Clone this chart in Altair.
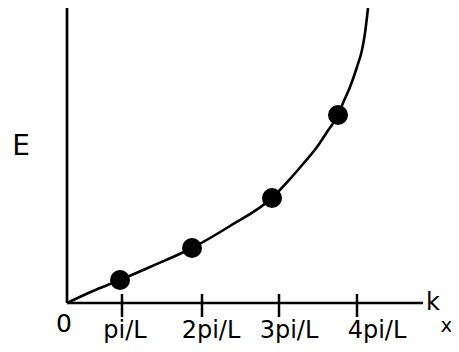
import altair as alt
import pandas as pd

# curve E(k) (arbitrary units, origin at 0,0)
curve_k = [0, 26, 53, 83, 125, 163, 206, 223, 236, 250, 260, 271, 276, 283, 290, 295, 298, 300, 301]
curve_E = [0, 12, 23, 36, 55, 77, 106, 124, 139, 156, 171, 188, 200, 216, 236, 253, 270, 286, 295]

# dots on the curve
dot_k = [53, 125, 205, 271]
dot_E = [23, 55, 105, 188]

# x ticks and their labels
tick_k = [55, 135, 212, 290]
tick_label_k = [58, 144, 222, 310]
tick_labels = ["pi/L", "2pi/L", "3pi/L", "4pi/L"]

XD = [-59, 384]
YD = [-41, 295]
xs = alt.Scale(domain=XD, nice=False, zero=False)
ys = alt.Scale(domain=YD, nice=False, zero=False)
FONT = "DejaVu Sans"

curve = pd.DataFrame({"k": curve_k, "E": curve_E, "o": range(len(curve_k))})
dots = pd.DataFrame({"k": dot_k, "E": dot_E})
axes = pd.DataFrame({"x": [0, 0], "y": [0, 0], "x2": [0, 356], "y2": [295, 0]})
ticks = pd.DataFrame({"x": tick_k, "y": [9] * 4, "y2": [-14] * 4})
tlabels = pd.DataFrame({"x": tick_label_k, "y": [-35] * 4, "t": tick_labels})

axis_layer = alt.Chart(axes).mark_rule(color="black", strokeWidth=2.7).encode(
    x=alt.X("x:Q", scale=xs, axis=None), y=alt.Y("y:Q", scale=ys, axis=None),
    x2="x2:Q", y2="y2:Q")
tick_layer = alt.Chart(ticks).mark_rule(color="black", strokeWidth=2.5).encode(
    x=alt.X("x:Q", scale=xs, axis=None), y=alt.Y("y:Q", scale=ys, axis=None),
    y2="y2:Q")
line_layer = alt.Chart(curve).mark_line(color="black", strokeWidth=2.6, interpolate="monotone").encode(
    x=alt.X("k:Q", scale=xs, axis=None), y=alt.Y("E:Q", scale=ys, axis=None), order="o:Q")
dot_layer = alt.Chart(dots).mark_circle(color="black", opacity=1, size=400).encode(
    x=alt.X("k:Q", scale=xs, axis=None), y=alt.Y("E:Q", scale=ys, axis=None))
label_layer = alt.Chart(tlabels).mark_text(font=FONT, fontSize=24, baseline="alphabetic", align="center").encode(
    x=alt.X("x:Q", scale=xs, axis=None), y=alt.Y("y:Q", scale=ys, axis=None), text="t:N")

def txt(t, x, y, size):
    df = pd.DataFrame({"x": [x], "y": [y], "t": [t]})
    return alt.Chart(df).mark_text(font=FONT, fontSize=size, baseline="alphabetic", align="center").encode(
        x=alt.X("x:Q", scale=xs, axis=None), y=alt.Y("y:Q", scale=ys, axis=None), text="t:N")

zero = txt("0", -3, -29, 25)
elab = txt("E", -46, 148, 28)
klab = txt("k", 366, -7, 24)
xlab = txt("x", 379.5, -29, 20)

chart = alt.layer(axis_layer, tick_layer, line_layer, dot_layer, label_layer,
                  zero, elab, klab, xlab).properties(
    width=443, height=336, padding=0, autosize="none"
).configure_view(stroke=None)

chart.save("out.html", embed_options={"renderer": "svg", "actions": False})
